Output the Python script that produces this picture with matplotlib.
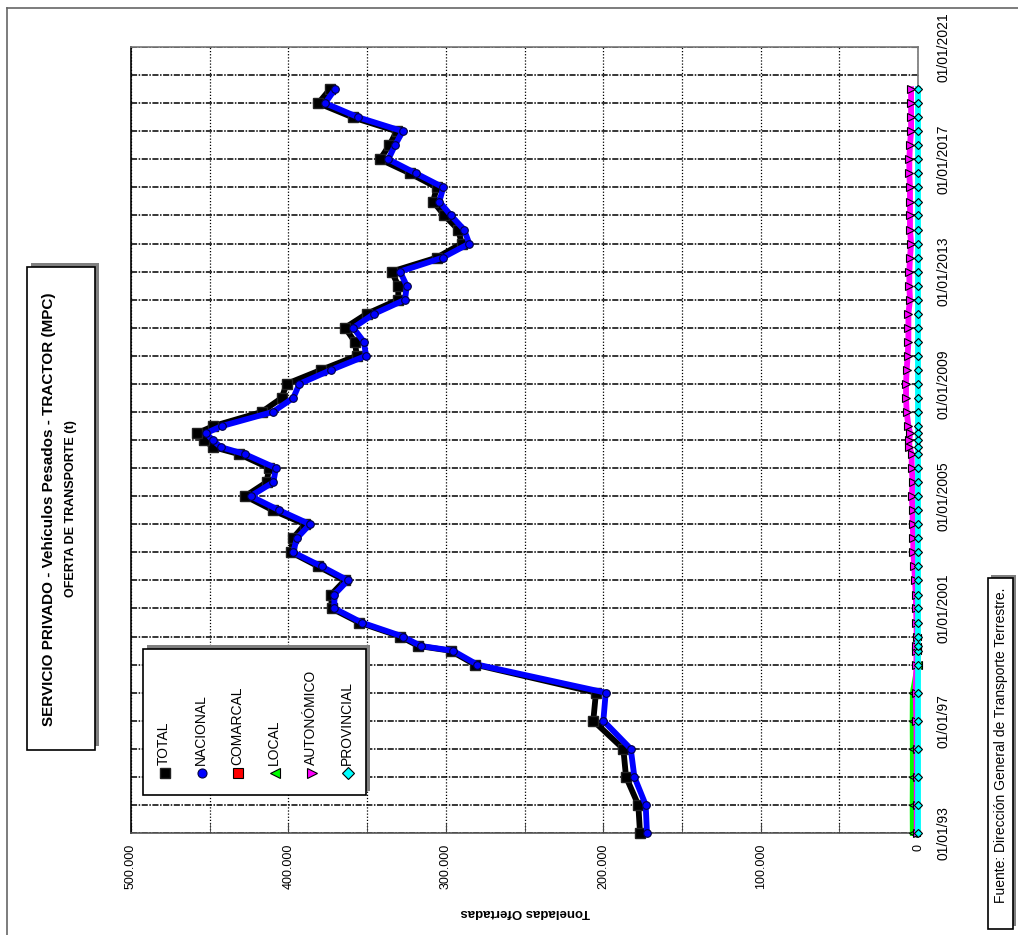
import matplotlib
matplotlib.use("Agg")
import matplotlib.pyplot as plt
import matplotlib.dates as mdates
from matplotlib.ticker import MultipleLocator
from matplotlib.patches import Rectangle
from matplotlib.lines import Line2D
import pandas as pd

plt.rcParams['font.family'] = ['Liberation Sans', 'DejaVu Sans']

# --- data ---
fechas = ['1993-01-01', '1994-01-01', '1995-01-01', '1996-01-01', '1997-01-01', '1998-01-01',
          '1999-01-01', '1999-07-01', '1999-09-01', '2000-01-01', '2000-07-01', '2001-01-01', '2001-07-01',
          '2002-01-01', '2002-07-01', '2003-01-01', '2003-07-01', '2004-01-01', '2004-07-01', '2005-01-01', '2005-07-01',
          '2006-01-01', '2006-07-01', '2006-10-01', '2007-01-01', '2007-04-01', '2007-07-01',
          '2008-01-01', '2008-07-01', '2009-01-01', '2009-07-01', '2010-01-01', '2010-07-01', '2011-01-01', '2011-07-01',
          '2012-01-01', '2012-07-01', '2013-01-01', '2013-07-01', '2014-01-01', '2014-07-01', '2015-01-01', '2015-07-01',
          '2016-01-01', '2016-07-01', '2017-01-01', '2017-07-01', '2018-01-01', '2018-07-01', '2019-01-01', '2019-07-01']

total = [176600, 177700, 185500, 187200, 206300, 204600,
         281500, 297000, 317500, 328800, 355000, 372500, 372800,
         364200, 381000, 398200, 397300, 389400, 409900, 427400, 413900,
         412200, 431200, 447700, 453700, 457900, 447700,
         417000, 404300, 401100, 379300, 356600, 357700, 364000, 350300,
         330200, 330200, 334400, 305800, 289900, 292100, 300900, 308000,
         305800, 322700, 341800, 335900, 331200, 359200, 381000, 373600]

nacional = [172200, 173000, 180200, 182500, 199900, 198400,
            280000, 295500, 316000, 327200, 353400, 370800, 370800,
            362200, 378900, 396900, 394700, 386300, 405800, 424000, 409600,
            407900, 427600, 443000, 448100, 452300, 442400,
            410000, 396900, 393000, 372900, 350700, 352000, 358800, 345600,
            325900, 324800, 329100, 302000, 285100, 288400, 296700, 304100,
            301600, 318900, 336500, 332300, 327400, 355600, 376700, 370400]

comarcal = [500, 500, 500, 500, 600, 600, 400, 300, 300, 200]

local = [3300, 3400, 3300, 3300, 3400, 3300, 0]

autonomico = [800, 800, 800, 900, 1000, 1500,
              1000, 1000, 1000, 800, 1000, 1200, 1400,
              1900, 2400, 3000, 3000, 3400, 3400, 4000, 3400,
              4000, 4000, 5500, 5500, 5000, 6100,
              7200, 7600, 7600, 7200, 6600, 6100, 6100, 6100,
              5100, 5500, 5500, 5100, 4400, 5100, 5100, 5100,
              5100, 5500, 5500, 5100, 4400, 4400, 4400, 4400]

provincial = [0, 0, 0, 0, 0, 0,
              0, 0, 0, 0, 0, 0, 0,
              0, 0, 0, 0, 0, 0, 0, 0,
              0, 0, 0, 0, 0, 0,
              0, 0, 0, 0, 0, 0, 0, 0,
              0, 0, 0, 0, 0, 0, 0, 0,
              0, 0, 0, 0, 0, 0, 0, 0]

ticks_valor = [0, 100000, 200000, 300000, 400000, 500000]
etiquetas_valor = ['0', '100.000', '200.000', '300.000', '400.000', '500.000']
ticks_fecha = ['1993-01-01', '1997-01-01', '2001-01-01', '2005-01-01',
               '2009-01-01', '2013-01-01', '2017-01-01', '2021-01-01']
etiquetas_fecha = ['01/01/93', '01/01/97', '01/01/2001', '01/01/2005',
                   '01/01/2009', '01/01/2013', '01/01/2017', '01/01/2021']

nombres = ['TOTAL', 'NACIONAL', 'COMARCAL', 'LOCAL', 'AUTONÓMICO', 'PROVINCIAL']

# series styles
estilos = {
    'TOTAL': dict(color='black', lw=4.2, marker='s', ms=7.5, mfc='black', mec='#222222', mew=1),
    'NACIONAL': dict(color='#0000FF', lw=4.2, marker='o', ms=5.5, mfc='#0000FF', mec='#000040', mew=0.8),
    'COMARCAL': dict(color='#FF0000', lw=4.2, marker='s', ms=5, mfc='#FF0000', mec='black', mew=0.8),
    'LOCAL': dict(color='#00FF00', lw=4.2, marker='<', ms=6, mfc='#00FF00', mec='black', mew=0.8),
    'AUTONÓMICO': dict(color='#FF00FF', lw=4.2, marker='>', ms=6, mfc='#FF00FF', mec='black', mew=0.8),
    'PROVINCIAL': dict(color='#00FFFF', lw=4.2, marker='D', ms=4.5, mfc='#00FFFF', mec='black', mew=0.8),
}

W, H = 1018, 935


def fx(x):
    return x / W


def fy(y):
    return 1 - y / H


fig = plt.figure(figsize=(W / 100, H / 100), dpi=100)
fig.patch.set_facecolor('white')

ax = fig.add_axes([fx(131), fy(833), (918 - 131) / W, (833 - 47) / H])

d = pd.to_datetime(fechas)
series = [total, nacional, comarcal, local, autonomico, provincial]
for i, (nombre, vals) in enumerate(zip(nombres, series)):
    ax.plot(vals, d[:len(vals)], clip_on=False, zorder=3 + i, **estilos[nombre])

ax.set_xlim(500000, 0)
ax.set_ylim(pd.Timestamp('1993-01-01'), pd.Timestamp('2021-01-01'))

ax.set_xticks(ticks_valor)
ax.set_xticklabels(etiquetas_valor)
ax.xaxis.set_minor_locator(MultipleLocator(50000))
ax.set_yticks(pd.to_datetime(ticks_fecha))
ax.set_yticklabels(etiquetas_fecha)
ax.yaxis.set_minor_locator(mdates.YearLocator(1))
ax.yaxis.tick_right()

ax.set_axisbelow(True)
ax.grid(which='both', axis='x', color='black', lw=0.9, ls=(0, (1, 1.5)))
ax.grid(which='both', axis='y', color='black', lw=1.1, ls=(0, (4, 1, 1, 1)))

ax.tick_params(axis='x', which='both', direction='in', length=7, color='#444444',
               labelsize=9, labelrotation=90, pad=8)
ax.tick_params(axis='y', which='both', direction='in', length=5, color='#444444',
               labelsize=10, labelrotation=90, pad=13)
for t in ax.get_yticklabels():
    t.set_va('center')

ax.spines['left'].set_color('black')
ax.spines['bottom'].set_color('#555555')
ax.spines['top'].set_color('#777777')
ax.spines['right'].set_color('#777777')
for s in ax.spines.values():
    s.set_linewidth(1.2)

# value axis label (rotated with the chart)
fig.text(fx(525), fy(912), 'Toneladas Ofertadas', rotation=180, ha='center', va='center',
         fontsize=9.5, fontweight='bold')


def caja(x0, y0, x1, y1, sombra=4):
    # gray shadow towards top and right, then white box with black border
    fig.add_artist(Rectangle((fx(x0 + sombra), fy(y1 - sombra)), (x1 - x0) / W, (y1 - y0) / H,
                             transform=fig.transFigure, facecolor='#808080', edgecolor='none'))
    fig.add_artist(Rectangle((fx(x0), fy(y1)), (x1 - x0) / W, (y1 - y0) / H,
                             transform=fig.transFigure, facecolor='white', edgecolor='black', lw=1.2))


# chart area frame
fig.add_artist(Line2D([fx(7), fx(7)], [fy(935), fy(8)], transform=fig.transFigure, color='#666666', lw=1.2))
fig.add_artist(Line2D([fx(7), fx(1018)], [fy(8), fy(8)], transform=fig.transFigure, color='#666666', lw=1.2))

# title box
caja(27, 267, 95, 750)
fig.text(fx(49), fy(509), 'SERVICIO PRIVADO - Vehículos Pesados - TRACTOR (MPC)', rotation=90,
         ha='center', va='center', fontsize=11, fontweight='bold')
fig.text(fx(71), fy(509), 'OFERTA DE TRANSPORTE (t)', rotation=90,
         ha='center', va='center', fontsize=9, fontweight='bold')

# legend box
caja(143, 649, 366, 795)
xs_leyenda = [165, 201.7, 238.3, 275, 311.7, 348.3]
for nombre, xl in zip(nombres, xs_leyenda):
    e = estilos[nombre]
    fig.add_artist(Line2D([fx(xl)], [fy(773)], transform=fig.transFigure, ls='none',
                          marker=e['marker'], ms=6.5, mfc=e['mfc'], mec=e['mec'], mew=e['mew']))
    fig.text(fx(xl - 1), fy(765), nombre, rotation=90, ha='center', va='bottom', fontsize=10)

# source box
caja(988, 578, 1013, 929, sombra=3)
fig.text(fx(1000.5), fy(745), 'Fuente: Dirección General de Transporte Terrestre.', rotation=90,
         ha='center', va='center', fontsize=10)

fig.savefig('out.png', dpi=100)
